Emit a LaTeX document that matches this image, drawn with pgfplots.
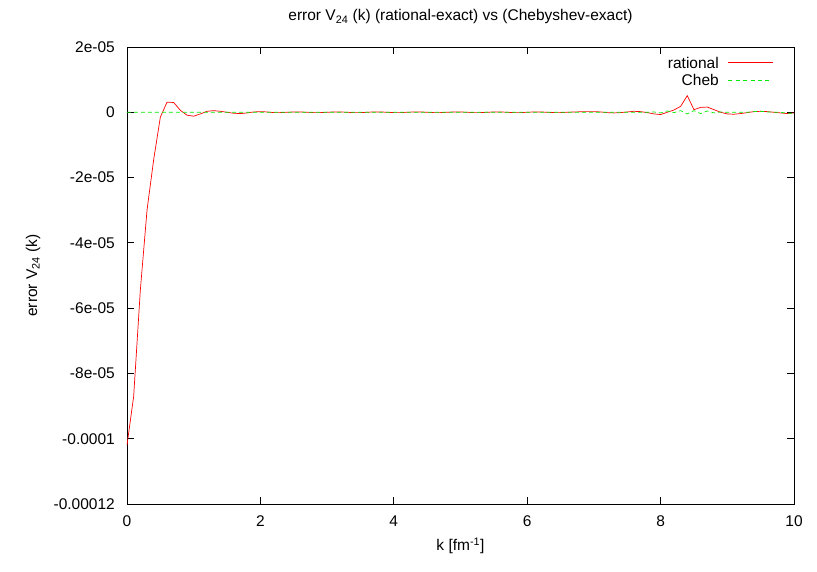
\documentclass[border=0pt]{standalone}
\usepackage{fontspec}
\setmainfont{Liberation Sans}
\usepackage{pgfplots}
\usepackage{pgfplotstable}
\pgfplotsset{compat=1.18}

% k, rational-exact, Chebyshev-exact
\pgfplotstableread{
k    rat      cheb
0.0  -102e-6  0
0.1  -87e-6   0
0.2  -54.5e-6 0
0.3  -30e-6   0
0.4  -14.5e-6 0
0.5  -1.5e-6  0
0.6  3.1e-6   0
0.7  3.0e-6   0
0.8  0.6e-6   0
0.9  -0.9e-6  0
1.0  -1.2e-6  0
1.1  -0.5e-6  0
1.2  0.3e-6   0
1.3  0.5e-6   0
1.4  0.3e-6   0
1.5  0        0
1.6  -0.3e-6  0
1.7  -0.4e-6  0
1.8  -0.2e-6  0
1.9  0.1e-6   0
2.0  0.2e-6   0
2.1  0.1e-6   0
2.2  -0.1e-6  0
2.3  -0.1e-6  0
2.4  0        0
2.5  0.1e-6   0
2.6  0.1e-6   0
2.7  0        0
2.8  -0.1e-6  0
2.9  -0.1e-6  0
3.0  0        0
3.1  0.1e-6   0
3.2  0.1e-6   0
3.3  0        0
3.4  -0.1e-6  0
3.5  -0.1e-6  0
3.6  0        0
3.7  0.1e-6   0
3.8  0.1e-6   0
3.9  0        0
4.0  -0.1e-6  0
4.1  -0.1e-6  0
4.2  0        0
4.3  0.1e-6   0
4.4  0.1e-6   0
4.5  0        0
4.6  -0.1e-6  0
4.7  -0.1e-6  0
4.8  0        0
4.9  0.1e-6   0
5.0  0.1e-6   0
5.1  0        0
5.2  -0.1e-6  0
5.3  -0.1e-6  0
5.4  0        0
5.5  0.1e-6   0
5.6  0.1e-6   0
5.7  0        0
5.8  -0.1e-6  0
5.9  -0.1e-6  0
6.0  0        0
6.1  0.1e-6   0
6.2  0.1e-6   0
6.3  0        0
6.4  -0.1e-6  0
6.5  -0.1e-6  0
6.6  0        0
6.7  0.1e-6   0
6.8  0.15e-6  0
6.9  0.2e-6   0
7.0  0.2e-6   0
7.1  0.1e-6   0
7.2  -0.1e-6  0
7.3  -0.2e-6  0
7.4  -0.1e-6  0
7.5  0.1e-6   0
7.6  0.3e-6   0
7.7  0.2e-6   0
7.8  -0.1e-6  0
7.9  -0.5e-6  0.1e-6
8.0  -0.7e-6  -0.2e-6
8.1  0        0.4e-6
8.2  0.7e-6   -0.1e-6
8.3  1.8e-6   0.5e-6
8.4  5.1e-6   -0.5e-6
8.5  0.8e-6   0.5e-6
8.6  1.5e-6   -0.4e-6
8.7  1.6e-6   0.4e-6
8.8  0.8e-6   -0.2e-6
8.9  0        0.1e-6
9.0  -0.5e-6  0
9.1  -0.6e-6  0
9.2  -0.4e-6  0
9.3  -0.1e-6  0
9.4  0.2e-6   0.2e-6
9.5  0.3e-6   0.3e-6
9.6  0.2e-6   0.1e-6
9.7  0        0
9.8  -0.2e-6  0
9.9  -0.4e-6  -0.3e-6
10.0 -0.2e-6  -0.3e-6
}\errdata

% legend samples set inside the entry text (line to the right of the label)
\newcommand{\redline}{\textcolor{red}{\rule[5.3pt]{45pt}{0.7pt}}}
\newcommand{\greendash}{\textcolor[RGB]{0,235,0}{%
  \xleaders\hbox to 7pt{\rule[5.3pt]{4pt}{0.7pt}\hfil}\hskip 45pt}}

\begin{document}
\begin{tikzpicture}[font=\fontsize{15.5}{18}\selectfont]
\begin{axis}[
    scale only axis,
    width=667pt, height=457pt,
    tick label style={font=\fontsize{15.5}{18}\selectfont},
    label style={font=\fontsize{15.5}{18}\selectfont},
    xmin=0, xmax=10,
    ymin=-0.00012, ymax=0.00002,
    xtick={0,2,4,6,8,10},
    xticklabels={0,2,4,6,8,10},
    ytick={-0.00012,-0.0001,-0.00008,-0.00006,-0.00004,-0.00002,0,0.00002},
    yticklabels={-0.00012,-0.0001,-8e-05,-6e-05,-4e-05,-2e-05,0,2e-05},
    scaled y ticks=false,
    tick align=inside,
    major tick length=7pt,
    every tick/.style={black, line width=0.9pt},
    axis line style={line width=0.9pt},
    yticklabel style={inner sep=0pt, xshift=-12pt},
    xticklabel style={inner sep=0pt, yshift=-11.5pt},
    title={error V\textsubscript{24} (k) (rational-exact) vs (Chebyshev-exact)},
    title style={at={(axis description cs:0.5,1)}, anchor=base, yshift=20pt,
        font=\fontsize{15.5}{18}\selectfont},
    xlabel={k [fm\textsuperscript{-1}]},
    xlabel style={at={(axis description cs:0.5,0)}, anchor=base, yshift=-47pt},
    ylabel={error V\textsubscript{24} (k)},
    ylabel style={at={(axis description cs:-0.1349,0.5)}, anchor=base},
    legend style={draw=none, fill=none, at={(0.9685,0.978)}, anchor=north east,
        inner sep=0pt, nodes={inner sep=0pt}, row sep=4.4pt,
        font=\fontsize{15.5}{18}\selectfont},
    legend plot pos=none,
    legend cell align=right,
]
\addplot[red, line width=0.7pt] table[x=k, y=rat] {\errdata};
\addlegendentry{rational\hspace{9pt}\redline}
\addplot[color={rgb,255:red,0;green,235;blue,0}, line width=0.7pt, dash pattern=on 4pt off 3pt] table[x=k, y=cheb] {\errdata};
\addlegendentry{Cheb\hspace{9pt}\greendash}
\coordinate (bl) at (rel axis cs:0,0);
\coordinate (tr) at (rel axis cs:1,1);
\end{axis}
\pgfresetboundingbox
\path[use as bounding box] (bl) ++(-127pt,-68pt) rectangle ([shift={(23pt,47pt)}]tr);
\end{tikzpicture}
\end{document}
